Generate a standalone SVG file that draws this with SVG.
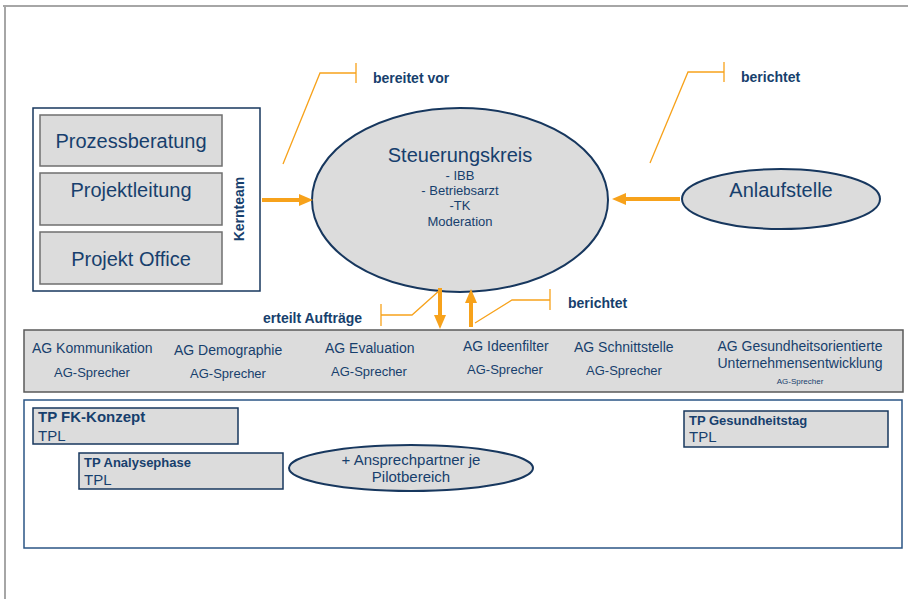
<svg xmlns="http://www.w3.org/2000/svg" width="908" height="599" viewBox="0 0 908 599">
  <style>
    text { font-family: "Liberation Sans", Arial, sans-serif; fill: #173f6d; }
    .b { font-weight: bold; }
    .mid { text-anchor: middle; }
    .frame { stroke: #a6a6a6; stroke-width: 2; fill: none; }
    .box { fill: #ffffff; stroke: #17375e; stroke-width: 1.5; }
    .sub { fill: #dcdcdc; stroke: #6f6f6f; stroke-width: 1.5; }
    .tp { fill: #dcdcdc; stroke: #17375e; stroke-width: 1.5; }
    .oval { fill: #dcdcdc; stroke: #17375e; stroke-width: 2; }
    .band { fill: #dcdcdc; stroke: #595959; stroke-width: 1.5; }
    .cont { fill: #ffffff; stroke: #2b5585; stroke-width: 1.5; }
    .flow { stroke: #f7a21b; stroke-width: 4; fill: none; marker-end: url(#head); }
    .call { stroke: #f7a21b; stroke-width: 1.3; fill: none; }
  </style>
  <defs>
    <marker id="head" markerUnits="userSpaceOnUse" markerWidth="14" markerHeight="12" viewBox="0 0 14 12" refX="4" refY="6" orient="auto">
      <path d="M0,0 L14,6 L0,12 z" fill="#f7a21b"/>
    </marker>
  </defs>

  <!-- page frame -->
  <path class="frame" d="M3,6 H908 M5,6 V599"/>

  <!-- Kernteam -->
  <g id="kernteam">
    <rect class="box" x="33" y="108" width="227" height="183"/>
    <text class="b mid" font-size="14" transform="translate(244,209) rotate(-90)">Kernteam</text>
  </g>
  <g id="prozessberatung">
    <rect class="sub" x="40" y="115" width="182" height="51"/>
    <text class="mid" x="131" y="148" font-size="20">Prozessberatung</text>
  </g>
  <g id="projektleitung">
    <rect class="sub" x="40" y="173" width="182" height="52"/>
    <text class="mid" x="131" y="197" font-size="20">Projektleitung</text>
  </g>
  <g id="projektoffice">
    <rect class="sub" x="40" y="232" width="182" height="52"/>
    <text class="mid" x="131" y="266" font-size="20">Projekt Office</text>
  </g>

  <!-- Steuerungskreis -->
  <g id="steuerungskreis">
    <ellipse class="oval" cx="460" cy="200" rx="148" ry="92"/>
    <text class="mid" x="460" y="162" font-size="20">Steuerungskreis</text>
    <text class="mid" x="460" y="180" font-size="13">- IBB</text>
    <text class="mid" x="460" y="195" font-size="13">- Betriebsarzt</text>
    <text class="mid" x="460" y="210" font-size="13">-TK</text>
    <text class="mid" x="460" y="226" font-size="13">Moderation</text>
  </g>

  <!-- Anlaufstelle -->
  <g id="anlaufstelle">
    <ellipse class="oval" cx="781" cy="199" rx="99" ry="30"/>
    <text class="mid" x="781" y="197" font-size="20">Anlaufstelle</text>
  </g>

  <!-- Arbeitsgruppen -->
  <g id="arbeitsgruppen">
    <rect class="band" x="24" y="330" width="879" height="62"/>
    <text x="32" y="353" font-size="14">AG Kommunikation</text>
    <text class="mid" x="92" y="377" font-size="13">AG-Sprecher</text>
    <text x="174" y="355" font-size="14">AG Demographie</text>
    <text class="mid" x="228" y="378" font-size="13">AG-Sprecher</text>
    <text x="325" y="353" font-size="14">AG Evaluation</text>
    <text class="mid" x="369" y="376" font-size="13">AG-Sprecher</text>
    <text x="463" y="351" font-size="14">AG Ideenfilter</text>
    <text class="mid" x="505" y="374" font-size="13">AG-Sprecher</text>
    <text x="574" y="352" font-size="14">AG Schnittstelle</text>
    <text class="mid" x="624" y="375" font-size="13">AG-Sprecher</text>
    <text class="mid" x="800" y="351" font-size="14">AG Gesundheitsorientierte</text>
    <text class="mid" x="800" y="368" font-size="14">Unternehmensentwicklung</text>
    <text class="mid" x="800" y="384" font-size="8">AG-Sprecher</text>
  </g>

  <!-- Teilprojekte -->
  <g id="teilprojekte">
    <rect class="cont" x="24" y="400" width="878" height="148"/>
  </g>
  <g id="tp-fk-konzept">
    <rect class="tp" x="33" y="408" width="205" height="36"/>
    <text class="b" x="38" y="422" font-size="15">TP FK-Konzept</text>
    <text x="38" y="441" font-size="15">TPL</text>
  </g>
  <g id="tp-analysephase">
    <rect class="tp" x="79" y="453" width="204" height="36"/>
    <text class="b" x="84" y="467" font-size="13">TP Analysephase</text>
    <text x="84" y="485" font-size="15">TPL</text>
  </g>
  <g id="ansprechpartner">
    <ellipse class="oval" cx="411" cy="468" rx="122" ry="23" stroke-width="1.5"/>
    <text class="mid" x="411" y="465" font-size="15">+ Ansprechpartner je</text>
    <text class="mid" x="411" y="482" font-size="15">Pilotbereich</text>
  </g>
  <g id="tp-gesundheitstag">
    <rect class="tp" x="684" y="411" width="204" height="36"/>
    <text class="b" x="689" y="425" font-size="13">TP Gesundheitstag</text>
    <text x="689" y="442" font-size="15">TPL</text>
  </g>

  <!-- connectors -->
  <g id="connectors">
    <line class="flow" x1="262" y1="200" x2="303" y2="200"/>
    <line class="flow" x1="680" y1="199" x2="622" y2="199"/>
    <line class="flow" x1="440" y1="288" x2="440" y2="319"/>
    <line class="flow" x1="471" y1="327" x2="471" y2="299"/>

    <path class="call" d="M283,164 L320,73 H356 M356,63 V83"/>
    <text class="b" x="373" y="83" font-size="14">bereitet vor</text>

    <path class="call" d="M650,163 L688,72 H724 M724,62 V82"/>
    <text class="b" x="741" y="82" font-size="14">berichtet</text>

    <path class="call" d="M440,290 L412,315 H381 M381,304 V326"/>
    <text class="b" x="263" y="323" font-size="14">erteilt Aufträge</text>

    <path class="call" d="M475,323 L512,300 H550 M550,289 V310"/>
    <text class="b" x="568" y="308" font-size="14">berichtet</text>
  </g>
</svg>
